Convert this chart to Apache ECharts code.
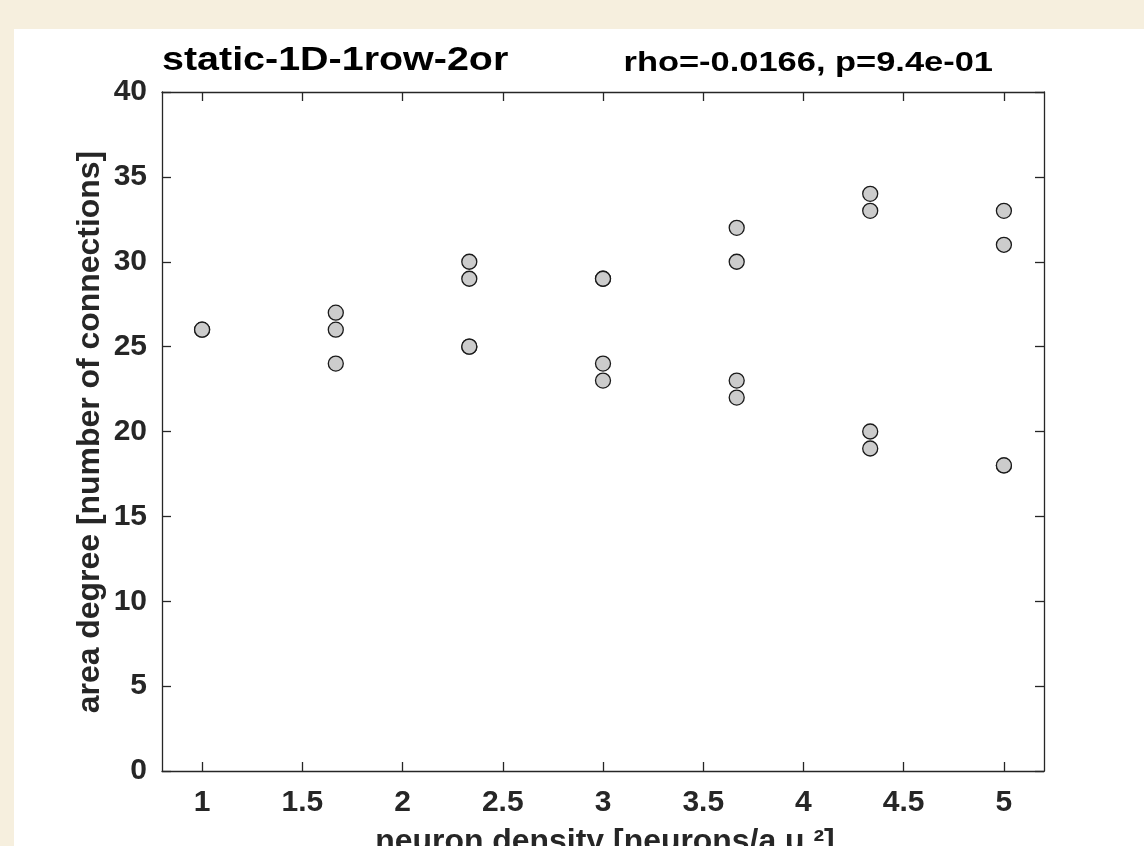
<!DOCTYPE html>
<html>
<head>
<meta charset="utf-8">
<script src="https://cdn.jsdelivr.net/npm/echarts@6/dist/echarts.min.js"></script>
<style>
html,body{margin:0;padding:0;background:#f6efde;}
#chart{width:1144px;height:846px;}
</style>
</head>
<body>
<div id="chart"></div>
<script>
// ---- data ----
const densities = [1, 1.667, 2.333, 3, 3.667, 4.333, 5];
const degrees = [
  [26, 26],
  [27, 26, 24],
  [30, 29, 25, 25],
  [29, 29, 24, 23],
  [32, 30, 23, 22],
  [34, 33, 20, 19],
  [33, 31, 18, 18]
];
const xTicks = [1, 1.5, 2, 2.5, 3, 3.5, 4, 4.5, 5];
const yTicks = [0, 5, 10, 15, 20, 25, 30, 35, 40];
const titleText = 'static-1D-1row-2or';
const statText = 'rho=-0.0166, p=9.4e-01';
const xName = 'neuron density [neurons/a.u.\u00b2]';
const yName = 'area degree [number of connections]';

// ---- build ----
const points = [];
densities.forEach((d, i) => degrees[i].forEach(v => points.push([d, v])));

const FONT = "'Liberation Sans', Arial, Helvetica, sans-serif";
const AX = '#262626';

const chart = echarts.init(document.getElementById('chart'), null, {renderer: 'canvas'});

const axisCommon = {
  axisLine: {show: true, onZero: false, lineStyle: {color: AX, width: 1.3}},
  axisTick: {show: true, inside: true, length: 9, lineStyle: {color: AX, width: 1.3}},
  splitLine: {show: false}
};

chart.setOption({
  backgroundColor: '#f6efde',
  animation: false,
  grid: {left: 162, right: 100, top: 92, bottom: 75, containLabel: false},
  xAxis: [
    Object.assign({}, axisCommon, {
      type: 'value', min: 0.8, max: 5.2, position: 'bottom',
      axisTick: Object.assign({}, axisCommon.axisTick, {customValues: xTicks}),
      axisLabel: {customValues: xTicks, margin: 17, color: AX, fontSize: 30, fontWeight: 'bold', fontFamily: FONT,
        formatter: v => String(+v.toFixed(2))}
    }),
    Object.assign({}, axisCommon, {
      type: 'value', min: 0.8, max: 5.2, position: 'top',
      axisTick: Object.assign({}, axisCommon.axisTick, {customValues: xTicks}),
      axisLabel: {show: false}
    })
  ],
  yAxis: [
    Object.assign({}, axisCommon, {
      type: 'value', min: yTicks[0], max: yTicks[yTicks.length - 1], interval: 5, position: 'left',
      axisLabel: {margin: 15, color: AX, fontSize: 30, fontWeight: 'bold', fontFamily: FONT}
    }),
    Object.assign({}, axisCommon, {
      type: 'value', min: yTicks[0], max: yTicks[yTicks.length - 1], interval: 5, position: 'right',
      axisLabel: {show: false}
    })
  ],
  graphic: [
    {type: 'rect', z: -100, silent: true, shape: {x: 14, y: 29, width: 1200, height: 900}, style: {fill: '#ffffff'}},
    {type: 'text', x: 162, y: 61, scaleX: 1.16, silent: true,
      style: {text: titleText, fill: '#000', font: "bold 34px " + FONT, fontSize: 34, fontWeight: 'bold', fontFamily: FONT,
        textAlign: 'left', align: 'left', textVerticalAlign: 'middle', verticalAlign: 'middle'}},
    {type: 'text', x: 993, y: 63, scaleX: 1.23, silent: true,
      style: {text: statText, fill: '#000', font: "bold 28px " + FONT, fontSize: 28, fontWeight: 'bold', fontFamily: FONT,
        textAlign: 'right', align: 'right', textVerticalAlign: 'middle', verticalAlign: 'middle'}},
    {type: 'text', x: 605, y: 842, scaleX: 1.03, silent: true,
      style: {text: xName, fill: AX, font: "bold 31px " + FONT, fontSize: 31, fontWeight: 'bold', fontFamily: FONT,
        textAlign: 'center', align: 'center', textVerticalAlign: 'middle', verticalAlign: 'middle'}},
    {type: 'text', x: 90, y: 432, rotation: Math.PI / 2, scaleX: 1.03, silent: true,
      style: {text: yName, fill: AX, font: "bold 31px " + FONT, fontSize: 31, fontWeight: 'bold', fontFamily: FONT,
        textAlign: 'center', align: 'center', textVerticalAlign: 'middle', verticalAlign: 'middle'}}
  ],
  series: [{
    type: 'scatter',
    xAxisIndex: 0, yAxisIndex: 0,
    data: points,
    symbol: 'circle',
    symbolSize: 15,
    itemStyle: {color: '#cccccc', borderColor: '#1a1a1a', borderWidth: 1.3, opacity: 1},
    emphasis: {disabled: true},
    z: 5
  }]
});
</script>
</body>
</html>
